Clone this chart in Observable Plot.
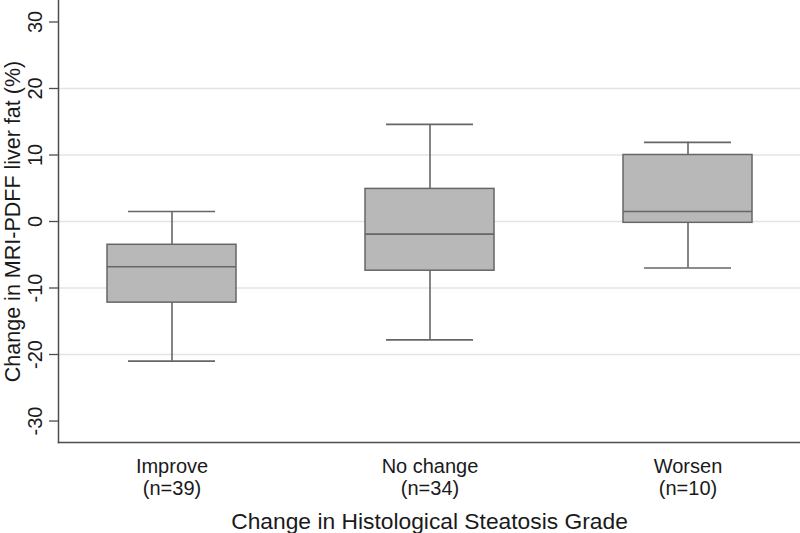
<!DOCTYPE html>
<html>
<head>
<meta charset="utf-8">
<script src="https://cdn.jsdelivr.net/npm/d3@7"></script>
<script src="https://cdn.jsdelivr.net/npm/@observablehq/plot@0.6"></script>
<style>
  html, body { margin: 0; padding: 0; background: #fff; }
  #chart svg { display: block; }
</style>
</head>
<body>
<div id="chart"></div>
<script>
const categories = ["Improve", "No change", "Worsen"];
const nLabels = ["(n=39)", "(n=34)", "(n=10)"];
const lowWhisker = [-21.0, -17.8, -7.0];
const q1 = [-12.2, -7.4, -0.2];
const median = [-6.8, -1.9, 1.5];
const q3 = [-3.5, 4.9, 10.0];
const highWhisker = [1.5, 14.6, 11.9];
const yTicks = [-30, -20, -10, 0, 10, 20, 30];
const gridTicks = [-20, -10, 0, 10, 20];
const yTitle = "Change in MRI-PDFF liver fat (%)";
const xTitle = "Change in Histological Steatosis Grade";

const rows = categories.map((c, i) => ({
  cat: c, label: c + "\n" + nLabels[i],
  lo: lowWhisker[i], q1: q1[i], med: median[i], q3: q3[i], hi: highWhisker[i]
}));

const font = "'Liberation Sans', Arial, sans-serif";
const boxStroke = "#666666";

const chart = Plot.plot({
  width: 800,
  height: 533,
  marginLeft: 58,
  marginRight: 0,
  marginTop: 0,
  marginBottom: 91,
  style: { fontFamily: font, background: "#fff" },
  x: { type: "band", domain: categories, paddingInner: 0.5, paddingOuter: 0.185, axis: null },
  y: { domain: [-33.23, 33.23], axis: null },
  marks: [
    Plot.gridY(gridTicks, { stroke: "#e4e4e4", strokeOpacity: 1, strokeWidth: 1.3 }),
    Plot.ruleX(rows, { x: "cat", y1: "lo", y2: "q1", stroke: boxStroke, strokeWidth: 1.6 }),
    Plot.ruleX(rows, { x: "cat", y1: "q3", y2: "hi", stroke: boxStroke, strokeWidth: 1.6 }),
    Plot.barY(rows, { x: "cat", y1: "q1", y2: "q3", fill: "#b8b8b8", stroke: boxStroke, strokeWidth: 1.5 }),
    Plot.tickY(rows, { x: "cat", y: "med", stroke: boxStroke, strokeWidth: 1.6 }),
    Plot.tickY(rows, { x: "cat", y: "lo", stroke: boxStroke, strokeWidth: 1.6, insetLeft: 21, insetRight: 21 }),
    Plot.tickY(rows, { x: "cat", y: "hi", stroke: boxStroke, strokeWidth: 1.6, insetLeft: 21, insetRight: 21 }),
    Plot.frame({ anchor: "left", stroke: "#4d4d4d", strokeWidth: 1.5 }),
    Plot.frame({ anchor: "bottom", stroke: "#4d4d4d", strokeWidth: 1.5 }),
    Plot.axisY({ ticks: yTicks, tickSize: 9, tickFormat: () => "", stroke: "#4d4d4d", strokeWidth: 1.3 }),
    Plot.text(yTicks, { y: d => d, text: d => String(d), frameAnchor: "left", dx: -17, rotate: -90,
      textAnchor: "middle", lineAnchor: "bottom", fontSize: 20, fill: "#1a1a1a" }),
    Plot.text([yTitle], { frameAnchor: "left", dx: -39, rotate: -90, textAnchor: "middle",
      lineAnchor: "bottom", fontSize: 21.5, fill: "#1a1a1a" }),
    Plot.text(rows, { x: "cat", text: "label", frameAnchor: "bottom", dy: 15, lineAnchor: "top",
      lineHeight: 1.1, fontSize: 20, fill: "#1a1a1a" }),
    Plot.text([xTitle], { frameAnchor: "bottom", dy: 70, lineAnchor: "top", fontSize: 22.8, fill: "#1a1a1a" })
  ]
});
document.getElementById("chart").appendChild(chart);
</script>
</body>
</html>
